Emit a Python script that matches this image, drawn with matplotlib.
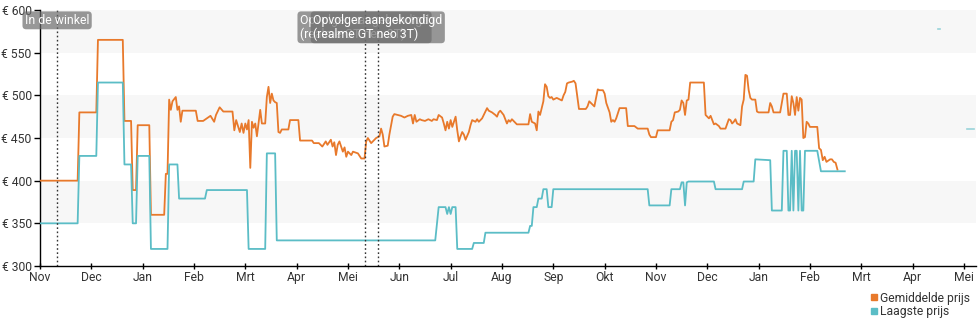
import pandas as pd
import matplotlib
matplotlib.use("Agg")
import matplotlib.pyplot as plt
import matplotlib.transforms as mtransforms
from matplotlib.lines import Line2D

plt.rcParams["font.family"] = ["Roboto", "DejaVu Sans"]

# --- gegevens -------------------------------------------------------------
maanden = ["Nov", "Dec", "Jan", "Feb", "Mrt", "Apr", "Mei", "Jun", "Jul", "Aug",
           "Sep", "Okt", "Nov", "Dec", "Jan", "Feb", "Mrt", "Apr", "Mei"]
prijs_ticks = [300, 350, 400, 450, 500, 550, 600]

gem_datum = [
    "2021-11-01", "2021-11-23", "2021-11-24", "2021-12-04", "2021-12-05", "2021-12-20",
    "2021-12-21", "2021-12-25", "2021-12-26", "2021-12-28", "2021-12-29", "2022-01-05",
    "2022-01-06", "2022-01-14", "2022-01-15", "2022-01-16", "2022-01-17", "2022-01-18",
    "2022-01-19", "2022-01-21", "2022-01-22", "2022-01-23", "2022-01-24", "2022-01-25",
    "2022-02-02", "2022-02-03", "2022-02-06", "2022-02-08", "2022-02-10", "2022-02-12",
    "2022-02-13", "2022-02-15", "2022-02-17", "2022-02-22", "2022-02-23", "2022-02-24",
    "2022-02-26", "2022-02-27", "2022-02-28", "2022-03-01", "2022-03-02", "2022-03-03",
    "2022-03-04", "2022-03-05", "2022-03-06", "2022-03-07", "2022-03-08", "2022-03-09",
    "2022-03-10", "2022-03-11", "2022-03-13", "2022-03-14", "2022-03-15", "2022-03-16",
    "2022-03-17", "2022-03-18", "2022-03-19", "2022-03-20", "2022-03-21", "2022-03-22",
    "2022-03-23", "2022-03-27", "2022-03-28", "2022-04-02", "2022-04-03", "2022-04-10",
    "2022-04-11", "2022-04-14", "2022-04-16", "2022-04-18", "2022-04-19", "2022-04-21",
    "2022-04-22", "2022-04-23", "2022-04-24", "2022-04-25", "2022-04-26", "2022-04-28",
    "2022-04-29", "2022-04-30", "2022-05-01", "2022-05-03", "2022-05-04", "2022-05-07",
    "2022-05-09", "2022-05-11", "2022-05-12", "2022-05-13", "2022-05-15", "2022-05-17",
    "2022-05-18", "2022-05-20", "2022-05-21", "2022-05-22", "2022-05-23", "2022-05-25",
    "2022-05-26", "2022-05-28", "2022-05-29", "2022-06-02", "2022-06-04", "2022-06-06",
    "2022-06-08", "2022-06-09", "2022-06-10", "2022-06-11", "2022-06-13", "2022-06-14",
    "2022-06-16", "2022-06-18", "2022-06-20", "2022-06-21", "2022-06-23", "2022-06-24",
    "2022-06-26", "2022-06-27", "2022-06-28", "2022-06-29", "2022-06-30", "2022-07-01",
    "2022-07-02", "2022-07-03", "2022-07-04", "2022-07-05", "2022-07-06", "2022-07-07",
    "2022-07-08", "2022-07-09", "2022-07-10", "2022-07-12", "2022-07-13", "2022-07-14",
    "2022-07-16", "2022-07-17", "2022-07-18", "2022-07-20", "2022-07-21", "2022-07-23",
    "2022-07-24", "2022-07-26", "2022-07-28", "2022-07-29", "2022-07-30", "2022-07-31",
    "2022-08-02", "2022-08-04", "2022-08-05", "2022-08-06", "2022-08-07", "2022-08-09",
    "2022-08-10", "2022-08-17", "2022-08-18", "2022-08-19", "2022-08-21", "2022-08-22",
    "2022-08-23", "2022-08-24", "2022-08-25", "2022-08-26", "2022-08-27", "2022-08-28",
    "2022-08-29", "2022-08-30", "2022-08-31", "2022-09-01", "2022-09-03", "2022-09-05",
    "2022-09-06", "2022-09-07", "2022-09-08", "2022-09-09", "2022-09-10", "2022-09-12",
    "2022-09-13", "2022-09-14", "2022-09-15", "2022-09-16", "2022-09-20", "2022-09-21",
    "2022-09-22", "2022-09-24", "2022-09-25", "2022-09-27", "2022-09-28", "2022-09-30",
    "2022-10-01", "2022-10-02", "2022-10-04", "2022-10-05", "2022-10-06", "2022-10-07",
    "2022-10-08", "2022-10-10", "2022-10-14", "2022-10-15", "2022-10-19", "2022-10-21",
    "2022-10-27", "2022-10-28", "2022-10-29", "2022-11-01", "2022-11-02", "2022-11-09",
    "2022-11-10", "2022-11-11", "2022-11-12", "2022-11-14", "2022-11-15", "2022-11-16",
    "2022-11-17", "2022-11-18", "2022-11-19", "2022-11-20", "2022-11-21", "2022-11-29",
    "2022-11-30", "2022-12-02", "2022-12-03", "2022-12-04", "2022-12-05", "2022-12-06",
    "2022-12-08", "2022-12-09", "2022-12-12", "2022-12-14", "2022-12-15", "2022-12-16",
    "2022-12-17", "2022-12-18", "2022-12-19", "2022-12-21", "2022-12-22", "2022-12-23",
    "2022-12-24", "2022-12-25", "2022-12-26", "2022-12-27", "2022-12-28", "2022-12-30",
    "2022-12-31", "2023-01-01", "2023-01-07", "2023-01-08", "2023-01-09", "2023-01-10",
    "2023-01-14", "2023-01-15", "2023-01-16", "2023-01-18", "2023-01-19", "2023-01-20",
    "2023-01-21", "2023-01-22", "2023-01-23", "2023-01-24", "2023-01-25", "2023-01-26",
    "2023-01-27", "2023-01-28", "2023-01-29", "2023-01-30", "2023-01-31", "2023-02-01",
    "2023-02-05", "2023-02-06", "2023-02-07", "2023-02-08", "2023-02-09", "2023-02-10",
    "2023-02-12", "2023-02-13", "2023-02-14", "2023-02-15", "2023-02-16",
]
gem_prijs = [
    400, 400, 480, 480, 565, 565,
    470, 470, 389, 389, 465, 465,
    360, 360, 408, 408, 495, 483,
    493, 498, 483, 487, 469, 482,
    482, 470, 470, 473, 476, 469,
    477, 486, 481, 481, 459, 471,
    457, 467, 456, 467, 460, 471,
    415, 469, 462, 467, 452, 467,
    483, 467, 467, 498, 510, 491,
    502, 494, 492, 491, 457, 456,
    460, 460, 471, 471, 447, 447,
    444, 444, 440, 446, 442, 448,
    440, 445, 430, 442, 446, 434,
    439, 428, 434, 430, 434, 432,
    426, 426, 446, 450, 444, 448,
    450, 452, 461, 454, 440, 441,
    454, 475, 478, 476, 474, 476,
    477, 467, 477, 469, 472, 471,
    470, 472, 470, 472, 471, 477,
    474, 467, 459, 469, 461, 471,
    463, 469, 475, 459, 446, 452,
    457, 454, 448, 457, 465, 471,
    469, 472, 469, 473, 477, 485,
    482, 480, 477, 475, 480, 482,
    477, 467, 471, 469, 472, 468,
    466, 466, 478, 469, 467, 459,
    481, 477, 485, 493, 513, 510,
    499, 497, 498, 495, 497, 495,
    494, 500, 504, 514, 515, 516,
    517, 514, 499, 484, 484, 487,
    493, 489, 487, 507, 506, 506,
    502, 491, 480, 469, 471, 469,
    473, 485, 485, 464, 464, 461,
    461, 454, 451, 451, 459, 459,
    469, 471, 480, 481, 483, 494,
    491, 477, 494, 495, 515, 515,
    477, 473, 476, 471, 466, 467,
    464, 461, 461, 472, 471, 467,
    469, 472, 467, 465, 487, 495,
    524, 523, 506, 497, 495, 495,
    481, 480, 480, 491, 487, 480,
    480, 491, 502, 502, 477, 477,
    499, 491, 477, 498, 482, 497,
    495, 450, 451, 469, 467, 463,
    463, 438, 436, 424, 428, 422,
    425, 425, 422, 421, 413,
]

laag_datum = [
    "2021-11-01", "2021-11-23", "2021-11-24", "2021-12-04", "2021-12-05", "2021-12-20",
    "2021-12-21", "2021-12-25", "2021-12-26", "2021-12-28", "2021-12-29", "2022-01-05",
    "2022-01-06", "2022-01-16", "2022-01-17", "2022-01-22", "2022-01-23", "2022-02-07",
    "2022-02-08", "2022-03-02", "2022-03-03", "2022-03-13", "2022-03-14", "2022-03-19",
    "2022-03-20", "2022-06-22", "2022-06-24", "2022-06-28", "2022-06-29", "2022-06-30",
    "2022-07-01", "2022-07-02", "2022-07-04", "2022-07-05", "2022-07-14", "2022-07-15",
    "2022-07-21", "2022-07-22", "2022-08-17", "2022-08-18", "2022-08-19", "2022-08-20",
    "2022-08-22", "2022-08-23", "2022-08-25", "2022-08-26", "2022-08-28", "2022-08-29",
    "2022-08-31", "2022-09-01", "2022-10-27", "2022-10-28", "2022-11-09", "2022-11-10",
    "2022-11-15", "2022-11-16", "2022-11-17", "2022-11-18", "2022-11-19", "2022-11-20",
    "2022-12-05", "2022-12-06", "2022-12-22", "2022-12-23", "2022-12-29", "2022-12-30",
    "2023-01-08", "2023-01-09", "2023-01-15", "2023-01-16", "2023-01-18", "2023-01-19",
    "2023-01-20", "2023-01-21", "2023-01-22", "2023-01-23", "2023-01-24", "2023-01-25",
    "2023-01-26", "2023-01-27", "2023-01-28", "2023-01-29", "2023-02-05", "2023-02-07",
    "2023-02-20",
]
laag_prijs = [
    350, 350, 429, 429, 515, 515,
    419, 419, 350, 350, 429, 429,
    320, 320, 419, 419, 379, 379,
    389, 389, 320, 320, 432, 432,
    330, 330, 369, 369, 361, 369,
    361, 369, 369, 320, 320, 327,
    327, 339, 339, 347, 347, 369,
    369, 379, 379, 390, 390, 369,
    369, 390, 390, 371, 371, 390,
    390, 398, 398, 371, 398, 399,
    399, 390, 390, 399, 399, 425,
    424, 365, 365, 435, 435, 365,
    365, 435, 365, 435, 435, 365,
    435, 365, 365, 435, 435, 411,
    411,
]

# losse laagste-prijs punten rechts in de grafiek
laag_los_datum = [["2023-04-16", "2023-04-17"], ["2023-05-03", "2023-05-07"]]
laag_los_prijs = [[578, 578], [460, 460]]

gebeurtenis_datum = ["2021-11-11", "2022-05-11", "2022-05-19"]
gebeurtenis_tekst = ["In de winkel",
                     "Opvolger aangekondigd\n(realme GT neo 3T)",
                     "Opvolger aangekondigd\n(realme GT neo 3T)"]

ORANJE = "#e8792b"
TEAL = "#5bbdc6"
TEKST = "#333333"


def maandpositie(datums):
    """Datum -> positie op de as, elke maand even breed (Nov 2021 = 0)."""
    d = pd.to_datetime(pd.Series(datums))
    return ((d.dt.year - 2021) * 12 + d.dt.month - 11
            + (d.dt.day - 1) / d.dt.days_in_month).to_numpy()


fig = plt.figure(figsize=(9.8, 3.25), dpi=100)
ax = fig.add_axes([40 / 980, 59 / 325, 936 / 980, 256 / 325])

# afwisselende horizontale banden
for onder in (350, 450, 550):
    ax.axhspan(onder, onder + 50, color="#f7f7f7", zorder=0, lw=0)

ax.plot(maandpositie(gem_datum), gem_prijs, color=ORANJE, lw=1.3, zorder=3)
ax.plot(maandpositie(laag_datum), laag_prijs, color=TEAL, lw=1.3, zorder=3)
for d, p in zip(laag_los_datum, laag_los_prijs):
    ax.plot(maandpositie(d), p, color=TEAL, lw=1.2, alpha=0.6, zorder=3)

# gebeurtenissen: stippellijn + label bovenaan
trans = mtransforms.blended_transform_factory(ax.transData, ax.transAxes)
for d, tekst in zip(gebeurtenis_datum, gebeurtenis_tekst):
    x = maandpositie([d])[0]
    ax.axvline(x, color=TEKST, lw=1, ls=(0, (1.2, 1.8)), zorder=4)
    ax.text(x, 0.985, tekst, transform=trans, ha="center", va="top",
            multialignment="left", color="white", fontsize=8.8,
            linespacing=1.05, zorder=6,
            bbox=dict(boxstyle="round,pad=0.2,rounding_size=0.3",
                      fc="#6d6d6d", ec="none", alpha=0.7))

ax.set_xlim(0, 18.235)
ax.set_ylim(300, 600)
ax.set_xticks(range(len(maanden)))
ax.set_xticklabels(maanden)
ax.set_yticks(prijs_ticks)
ax.set_yticklabels([f"€ {p}" for p in prijs_ticks])
ax.tick_params(axis="x", direction="inout", length=5, width=1, pad=1,
               labelsize=8.7, labelcolor=TEKST, color="black")
ax.tick_params(axis="y", direction="out", length=4, width=1, pad=2,
               labelsize=8.7, labelcolor=TEKST, color="black")

for kant in ("top", "right"):
    ax.spines[kant].set_visible(False)
for kant in ("left", "bottom"):
    ax.spines[kant].set_color("black")
    ax.spines[kant].set_linewidth(1)

handles = [
    Line2D([], [], marker="s", ls="none", color=ORANJE, markersize=5),
    Line2D([], [], marker="s", ls="none", color=TEAL, markersize=5),
]
fig.legend(handles, ["Gemiddelde prijs", "Laagste prijs"],
           loc="lower right", bbox_to_anchor=(0.998, -0.005), frameon=False,
           fontsize=8.7, labelcolor=TEKST, handlelength=0.6, handletextpad=0.15,
           labelspacing=0.05, borderpad=0.2, alignment="left")

fig.savefig("out.png", dpi=100)
